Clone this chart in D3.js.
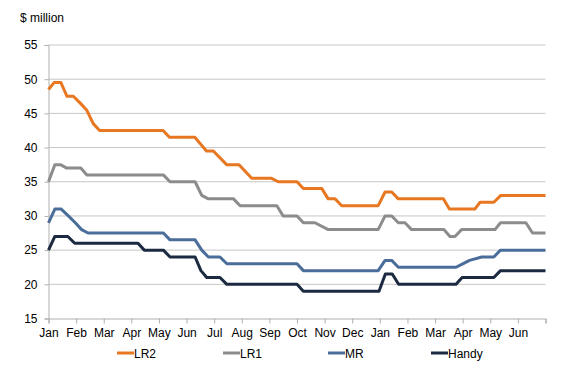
<!DOCTYPE html>
<html><head><meta charset="utf-8">
<script src="https://cdn.jsdelivr.net/npm/d3@7"></script>
<style>
html,body{margin:0;padding:0;background:#fff;}
text{font-family:"Liberation Sans",Arial,sans-serif;fill:#000;}
</style></head>
<body><svg id="c" width="567" height="380"></svg>
<script>
// x = months since start (0 = first Jan), y = $ million
const monthLabels = ["Jan","Feb","Mar","Apr","May","Jun","Jul","Aug","Sep","Oct","Nov","Dec","Jan","Feb","Mar","Apr","May","Jun"];
const yTicks = [15,20,25,30,35,40,45,50,55];
const seriesNames = ["LR2","LR1","MR","Handy"];
const lr2 = [[0,48.5],[0.2,49.5],[0.45,49.5],[0.67,47.5],[0.9,47.5],[1.15,46.5],[1.38,45.5],[1.62,43.5],[1.85,42.5],[4.15,42.5],[4.38,41.5],[5.3,41.5],[5.72,39.5],[5.97,39.5],[6.45,37.5],[6.9,37.5],[7.36,35.5],[8.08,35.5],[8.32,35],[9.0,35],[9.23,34],[9.9,34],[10.13,32.5],[10.38,32.5],[10.62,31.5],[11.94,31.5],[12.19,33.5],[12.43,33.5],[12.67,32.5],[14.3,32.5],[14.52,31],[15.44,31],[15.63,32],[16.13,32],[16.38,33],[18,33]];
const lr1 = [[0,35],[0.23,37.5],[0.43,37.5],[0.66,37],[1.17,37],[1.39,36],[4.16,36],[4.4,35],[5.31,35],[5.55,33],[5.79,32.5],[6.7,32.5],[6.94,31.5],[8.27,31.5],[8.5,30],[9.0,30],[9.23,29],[9.65,29],[10.13,28],[11.94,28],[12.19,30],[12.43,30],[12.67,29],[12.91,29],[13.15,28],[14.32,28],[14.54,27],[14.72,27],[14.96,28],[16.17,28],[16.37,29],[17.29,29],[17.53,27.5],[18,27.5]];
const mr = [[0,29],[0.23,31],[0.46,31],[0.72,30],[0.97,29],[1.2,28],[1.43,27.5],[4.16,27.5],[4.4,26.5],[5.31,26.5],[5.55,25],[5.79,24],[6.21,24],[6.46,23],[9.0,23],[9.23,22],[11.94,22],[12.19,23.5],[12.43,23.5],[12.67,22.5],[14.76,22.5],[15.0,23],[15.25,23.5],[15.69,24],[16.13,24],[16.37,25],[18,25]];
const handy = [[0,25],[0.23,27],[0.7,27],[0.95,26],[3.24,26],[3.47,25],[4.16,25],[4.4,24],[5.31,24],[5.52,22],[5.73,21],[6.21,21],[6.46,20],[9.0,20],[9.23,19],[11.97,19],[12.2,21.5],[12.45,21.5],[12.68,20],[14.76,20],[14.98,21],[16.13,21],[16.37,22],[18,22]];
const seriesData = [lr2, lr1, mr, handy];
const colors = ["#e87722","#8c8c8c","#4a6d9a","#1b2a40"];

const svg = d3.select("#c");
const L = 48.5, R = 545.5, T = 45, B = 318.5;
const x = d3.scaleLinear().domain([0,18]).range([L,R]);
const y = d3.scaleLinear().domain([15,55]).range([B,T]);

// gridlines
svg.append("g").selectAll("line").data(yTicks.filter(d=>d>15)).join("line")
  .attr("x1",L).attr("x2",R).attr("y1",d=>y(d)).attr("y2",d=>y(d))
  .attr("stroke","#c6c6c6").attr("stroke-width",1);

// y axis
const ya = svg.append("g").attr("transform",`translate(${L},0)`)
  .call(d3.axisLeft(y).tickValues(yTicks).tickSize(4).tickPadding(7));
ya.select(".domain").attr("stroke","#b0b0b0");
ya.selectAll(".tick line").attr("stroke","#b0b0b0");
ya.selectAll("text").attr("font-size",12).style("font-family","Liberation Sans, Arial, sans-serif");

// x axis
const xa = svg.append("g").attr("transform",`translate(0,${B})`)
  .call(d3.axisBottom(x).tickValues(d3.range(0,19)).tickSize(5).tickPadding(5)
    .tickFormat(i => monthLabels[i] || ""));
xa.select(".domain").attr("stroke","#b0b0b0");
xa.selectAll(".tick line").attr("stroke","#b0b0b0");
xa.selectAll("text").attr("font-size",12).style("font-family","Liberation Sans, Arial, sans-serif");

// title
svg.append("text").attr("x",20).attr("y",22).attr("font-size",12).text("$ million");

// lines
const line = d3.line().x(d=>x(d[0])).y(d=>y(d[1]));
svg.append("g").selectAll("path").data(seriesData).join("path")
  .attr("d",line).attr("fill","none")
  .attr("stroke",(d,i)=>colors[i]).attr("stroke-width",3)
  .attr("stroke-linejoin","round");

// legend
const legX = [117,223,328,431];
const lg = svg.append("g").selectAll("g").data(seriesNames).join("g")
  .attr("transform",(d,i)=>`translate(${legX[i]},353)`);
lg.append("line").attr("x1",0).attr("x2",17).attr("y1",0).attr("y2",0)
  .attr("stroke",(d,i)=>colors[i]).attr("stroke-width",3);
lg.append("text").attr("x",17).attr("y",4.5).attr("font-size",12).text(d=>d);
</script></body></html>
